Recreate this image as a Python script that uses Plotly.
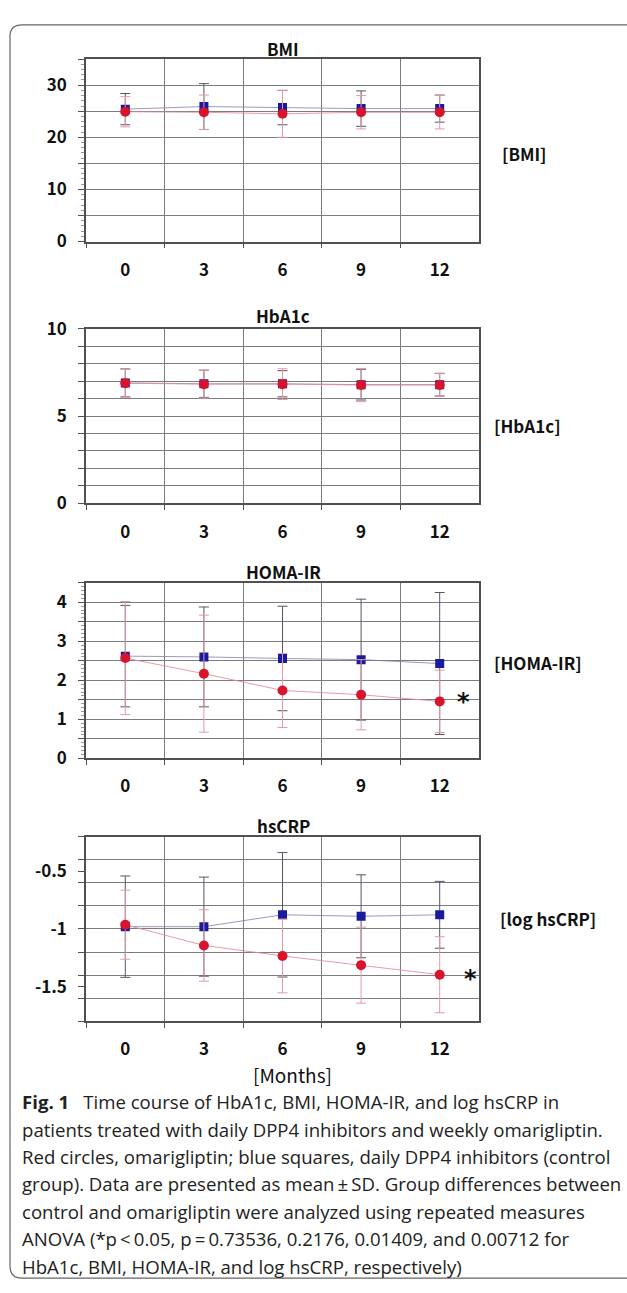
import plotly.graph_objects as go

W, H = 627, 1293

months = ["0", "3", "6", "9", "12"]

bmi_ctrl = [25.4, 25.9, 25.7, 25.5, 25.5]
bmi_ctrl_sd = [3.0, 4.4, 3.3, 3.4, 2.6]
bmi_omari = [24.9, 24.8, 24.5, 24.8, 24.8]
bmi_omari_sd = [2.9, 3.3, 4.5, 3.2, 3.2]

hba1c_ctrl = [6.90, 6.85, 6.85, 6.80, 6.80]
hba1c_ctrl_sd = [0.80, 0.78, 0.75, 0.88, 0.65]
hba1c_omari = [6.88, 6.83, 6.83, 6.78, 6.78]
hba1c_omari_sd = [0.80, 0.80, 0.88, 0.95, 0.65]

homa_ctrl = [2.62, 2.60, 2.56, 2.53, 2.43]
homa_ctrl_sd = [1.30, 1.28, 1.34, 1.55, 1.82]
homa_omari = [2.57, 2.17, 1.74, 1.63, 1.46]
homa_omari_sd = [1.45, 1.50, 0.95, 0.90, 0.80]

crp_ctrl = [-0.98, -0.98, -0.877, -0.89, -0.877]
crp_ctrl_sd = [0.44, 0.43, 0.54, 0.36, 0.29]
crp_omari = [-0.963, -1.143, -1.234, -1.314, -1.397]
crp_omari_sd = [0.30, 0.31, 0.32, 0.33, 0.33]

panel_titles = ["BMI", "HbA1c", "HOMA-IR", "hsCRP"]
panel_units = ["[BMI]", "[HbA1c]", "[HOMA-IR]", "[log hsCRP]"]

bmi_ticks = [0, 5, 10, 15, 20, 25, 30, 35]
bmi_ticktext = ["0", "", "10", "", "20", "", "30", ""]
hba1c_ticks = [0, 1, 2, 3, 4, 5, 6, 7, 8, 9, 10]
hba1c_ticktext = ["0", "", "", "", "", "5", "", "", "", "", "10"]
homa_ticks = [0, 0.5, 1, 1.5, 2, 2.5, 3, 3.5, 4, 4.5]
homa_ticktext = ["0", "", "1", "", "2", "", "3", "", "4", ""]
crp_grid = [-1.8, -1.6, -1.4, -1.2, -1.0, -0.8, -0.6, -0.4, -0.2]
crp_labels = [-1.5, -1.0, -0.5]
crp_labeltext = ["-1.5", "-1", "-0.5"]

caption_lines = [
    "<b>Fig. 1</b>\u2002 Time course of HbA1c, BMI, HOMA-IR, and log hsCRP in",
    "patients treated with daily DPP4 inhibitors and weekly omarigliptin.",
    "Red circles, omarigliptin; blue squares, daily DPP4 inhibitors (control",
    "group). Data are presented as mean\u2009\u00b1\u2009SD. Group differences between",
    "control and omarigliptin were analyzed using repeated measures",
    "ANOVA (*p\u2009<\u20090.05, p\u2009=\u20090.73536, 0.2176, 0.01409, and 0.00712 for",
    "HbA1c, BMI, HOMA-IR, and log hsCRP, respectively)",
]


def X(px):
    return px / W


def Y(py):
    return 1 - py / H


JP = "Noto Sans CJK JP"
GRID = "#7c7c7c"
AXLINE = "#505050"
BLUE = "#1a1a9e"
RED = "#d8142c"

# pixel boxes of the four plot areas (top, bottom)
boxes = [(46, 232), (321, 499), (580, 759), (839, 1027)]
x0p, x1p = 86, 479

panels = [
    (bmi_ctrl, bmi_ctrl_sd, bmi_omari, bmi_omari_sd, [0, 35], bmi_ticks, bmi_ticktext, 1),
    (hba1c_ctrl, hba1c_ctrl_sd, hba1c_omari, hba1c_omari_sd, [0, 10], hba1c_ticks, hba1c_ticktext, None),
    (homa_ctrl, homa_ctrl_sd, homa_omari, homa_omari_sd, [0, 4.5], homa_ticks, homa_ticktext, 0.1),
    (crp_ctrl, crp_ctrl_sd, crp_omari, crp_omari_sd, [-1.8, -0.2], crp_labels, crp_labeltext, 0.05),
]

fig = go.Figure()
layout = {}
for i, (c, csd, o, osd, yr, tv, tt, minor_d) in enumerate(panels):
    n = i + 1
    xa = "x" if n == 1 else f"x{n}"
    ya = "y" if n == 1 else f"y{n}"
    fig.add_trace(go.Scatter(
        x=months, y=c, xaxis=xa, yaxis=ya, mode="lines+markers",
        line=dict(color="rgba(120,120,170,0.75)", width=1),
        marker=dict(symbol="square", size=9, color=BLUE),
        error_y=dict(type="data", array=csd, visible=True, color="#55556a", thickness=1, width=5),
        showlegend=False, hoverinfo="skip"))
    fig.add_trace(go.Scatter(
        x=months, y=o, xaxis=xa, yaxis=ya, mode="lines+markers",
        line=dict(color="rgba(225,140,150,0.85)", width=1),
        marker=dict(symbol="circle", size=10, color=RED),
        error_y=dict(type="data", array=osd, visible=True, color="#e39aa8", thickness=1, width=5),
        showlegend=False, hoverinfo="skip"))
    top, bot = boxes[i]
    xkey = "xaxis" if n == 1 else f"xaxis{n}"
    ykey = "yaxis" if n == 1 else f"yaxis{n}"
    layout[xkey] = dict(
        domain=[X(x0p), X(x1p)], anchor=ya, type="category", tickson="boundaries",
        range=[-0.5, 4.5], showgrid=True, gridcolor=GRID, gridwidth=1,
        showline=True, linecolor=AXLINE, linewidth=1.5, mirror=True,
        ticks="outside", ticklen=5, tickcolor=AXLINE,
        tickfont=dict(family=JP, size=17, color="#111", weight="bold"),
        ticklabelstandoff=12, fixedrange=True)
    ydict = dict(
        domain=[Y(bot), Y(top)], anchor=xa, range=yr,
        tickvals=tv, ticktext=tt,
        showline=True, linecolor=AXLINE, linewidth=1.5, mirror=True,
        ticks="outside", ticklen=6, tickcolor=AXLINE,
        tickfont=dict(family=JP, size=17, color="#111", weight="bold"),
        ticklabelstandoff=8, zeroline=False, fixedrange=True)
    if i == 3:
        ydict["showgrid"] = False
        ydict["minor"] = dict(tickvals=crp_grid, showgrid=True, gridcolor=GRID, gridwidth=1,
                              ticks="outside", ticklen=6, tickcolor=AXLINE)
    else:
        ydict["showgrid"] = True
        ydict["gridcolor"] = GRID
        ydict["gridwidth"] = 1
        if minor_d:
            ydict["minor"] = dict(dtick=minor_d, ticks="outside", ticklen=3,
                                  tickcolor="#999", showgrid=False)
    layout[ykey] = ydict

annotations = []
title_y = [35, 307, 569, 827]
unit_pos = [(500, 142), (492, 420), (492, 661), (498, 922)]
for i in range(4):
    annotations.append(dict(text=panel_titles[i], x=X(283), y=Y(title_y[i]),
                            xref="paper", yref="paper", showarrow=False,
                            xanchor="center", yanchor="middle",
                            font=dict(family=JP, size=17, color="#111", weight="bold")))
    annotations.append(dict(text=panel_units[i], x=X(unit_pos[i][0]), y=Y(unit_pos[i][1]),
                            xref="paper", yref="paper", showarrow=False,
                            xanchor="left", yanchor="middle",
                            font=dict(family=JP, size=17, color="#111", weight="bold")))
for (ax, ay) in [(455, 702), (462, 984)]:
    annotations.append(dict(text="<b>*</b>", x=X(ax), y=Y(ay), xref="paper", yref="paper",
                            showarrow=False, xanchor="left", yanchor="middle",
                            font=dict(family="DejaVu Sans", size=24, color="#111")))
annotations.append(dict(text="[Months]", x=X(292), y=Y(1081), xref="paper", yref="paper",
                        showarrow=False, xanchor="center", yanchor="middle",
                        font=dict(family=JP, size=19, color="#111")))
for k, line in enumerate(caption_lines):
    annotations.append(dict(text=line, x=X(20), y=Y(1109 + 28 * k), xref="paper", yref="paper",
                            showarrow=False, xanchor="left", yanchor="middle",
                            font=dict(family="Open Sans", size=18.6, color="#222")))

bx0, btop, bbot, r = 10, 11, 1289, 12
path = (f"M {X(640)},{Y(btop)} L {X(bx0 + r)},{Y(btop)} "
        f"Q {X(bx0)},{Y(btop)} {X(bx0)},{Y(btop + r)} "
        f"L {X(bx0)},{Y(bbot - r)} Q {X(bx0)},{Y(bbot)} {X(bx0 + r)},{Y(bbot)} "
        f"L {X(640)},{Y(bbot)}")

fig.update_layout(
    width=W, height=H, margin=dict(l=0, r=0, t=0, b=0),
    paper_bgcolor="white", plot_bgcolor="white",
    annotations=annotations,
    shapes=[dict(type="path", path=path, xref="paper", yref="paper",
                 line=dict(color="#666", width=1.2))],
    **layout)

fig.write_html("out.html", config={"displayModeBar": False},
               post_script="document.body.style.margin='0';document.body.style.overflow='hidden';")
